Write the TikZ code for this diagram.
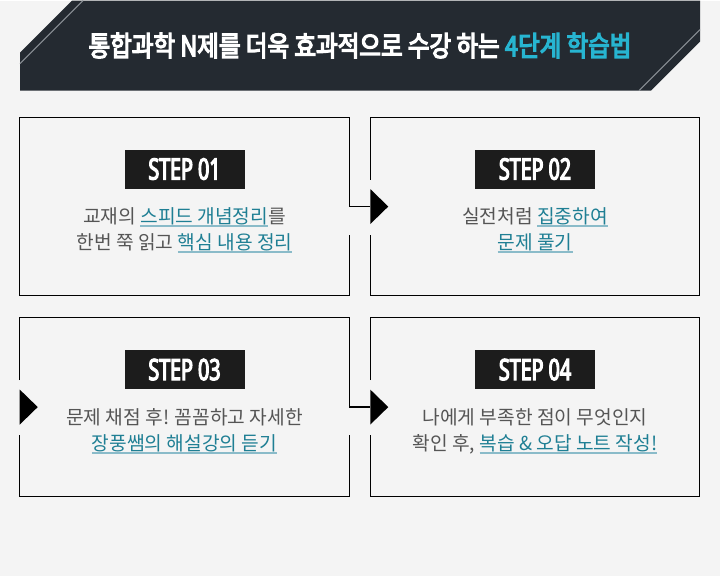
\documentclass[tikz,border=0pt]{standalone}
\usepackage{fontspec}
\usepackage{xcolor}
\usetikzlibrary{positioning,calc}
\newfontfamily\krfont{Noto Sans CJK KR}
\newfontfamily\titlefont[FakeStretch=0.84, FakeBold=4.5]{Noto Sans CJK KR}
\newfontfamily\stepfont[FakeStretch=0.67, FakeBold=4]{Noto Sans}
\definecolor{bgcol}{HTML}{F4F4F4}
\definecolor{bandcol}{HTML}{242A31}
\definecolor{slashcol}{HTML}{8A8F95}
\definecolor{accent}{HTML}{27B5D1}
\definecolor{labcol}{HTML}{1C1C1C}
\definecolor{txtcol}{HTML}{555555}
\definecolor{hlcol}{HTML}{1F7F94}
\definecolor{ulcol}{HTML}{8ABBC9}
\newsavebox{\hlbox}
\newcommand{\hl}[1]{\sbox{\hlbox}{\color{hlcol}#1}%
  \rlap{\color{ulcol}\rule[-3pt]{\wd\hlbox}{1.6pt}}\usebox{\hlbox}}

\begin{document}
\begin{tikzpicture}[x=0.75pt, y=-0.75pt,
  cell/.style={minimum width=246.75pt, minimum height=133.5pt, inner sep=0pt},
  frame/.style={draw=black, line width=1pt},
  steplabel/.style={fill=labcol, text=white, minimum width=90pt, minimum height=29.25pt,
                    inner sep=0pt, font=\stepfont\fontsize{22}{22}\selectfont},
  body/.style={text=txtcol, align=center, font=\krfont\fontsize{14.4}{19.5}\selectfont},
  link/.style={draw=black, line width=1pt}
]
  % background and header band
  \fill[bgcol] (0,0) rectangle (720,575);
  \fill[bandcol] (72,0) -- (700,0) -- (700,41) -- (651,90) -- (20,90) -- (20,52) -- cycle;
  \draw[slashcol, line width=0.8pt] (83,0) -- (20,63);
  \draw[slashcol, line width=0.8pt] (700,29) -- (639,90);
  \node[text=white, font=\titlefont\fontsize{21}{21}\selectfont] (title) at (360,45)
    {통합과학 N제를 더욱 효과적으로 수강 하는 \textcolor{accent}{4단계 학습법}};

  % the four cells
  \node[cell] (s1) at (184.5,206) {};
  \node[cell, right=15.75pt of s1] (s2) {};
  \node[cell, below=16.5pt of s1] (s3) {};
  \node[cell, right=15.75pt of s3] (s4) {};

  % outlines (gaps where the arrows pass)
  \draw[frame] (s1.east) -- (s1.north east) -- (s1.north west) -- (s1.south west)
    -- (s1.south east) -- ($(s1.east)+(0,28)$);
  \draw[frame] ($(s2.west)+(0,-27)$) -- (s2.north west) -- (s2.north east) -- (s2.south east)
    -- (s2.south west) -- ($(s2.west)+(0,28)$);
  \draw[frame] ($(s3.west)+(0,-27)$) -- (s3.north west) -- (s3.north east) -- (s3.east);
  \draw[frame] ($(s3.east)+(0,28)$) -- (s3.south east) -- (s3.south west) -- ($(s3.west)+(0,28)$);
  \draw[frame] ($(s4.west)+(0,-27)$) -- (s4.north west) -- (s4.north east) -- (s4.south east)
    -- (s4.south west) -- ($(s4.west)+(0,28)$);

  % connectors and triangles
  \draw[link] (s1.east) -- (s2.west);
  \draw[link] (s3.east) -- (s4.west);
  \foreach \c in {s2,s3,s4}{
    \fill[black] (\c.west) ++(0,-17.5) -- ++(18,17.5) -- ++(-18,17.5) -- cycle;
  }

  % step labels
  \foreach \c/\n in {s1/01, s2/02, s3/03, s4/04}{
    \node[steplabel] (lab\n) at ($(\c.center)+(0,-37.5)$) {STEP \n};
  }

  % texts
  \node[body] (t1) at ($(s1.center)+(0,24)$)
    {교재의 \hl{스피드 개념정리}를\\한번 쭉 읽고 \hl{핵심 내용 정리}};
  \node[body] (t2) at ($(s2.center)+(0,24)$)
    {실전처럼 \hl{집중하여}\\\hl{문제 풀기}};
  \node[body] (t3) at ($(s3.center)+(0,24)$)
    {문제 채점 후! 꼼꼼하고 자세한\\\hl{장풍쌤의 해설강의 듣기}};
  \node[body] (t4) at ($(s4.center)+(0,24)$)
    {나에게 부족한 점이 무엇인지\\확인 후, \hl{복습 \& 오답 노트 작성!}};
\end{tikzpicture}
\end{document}
